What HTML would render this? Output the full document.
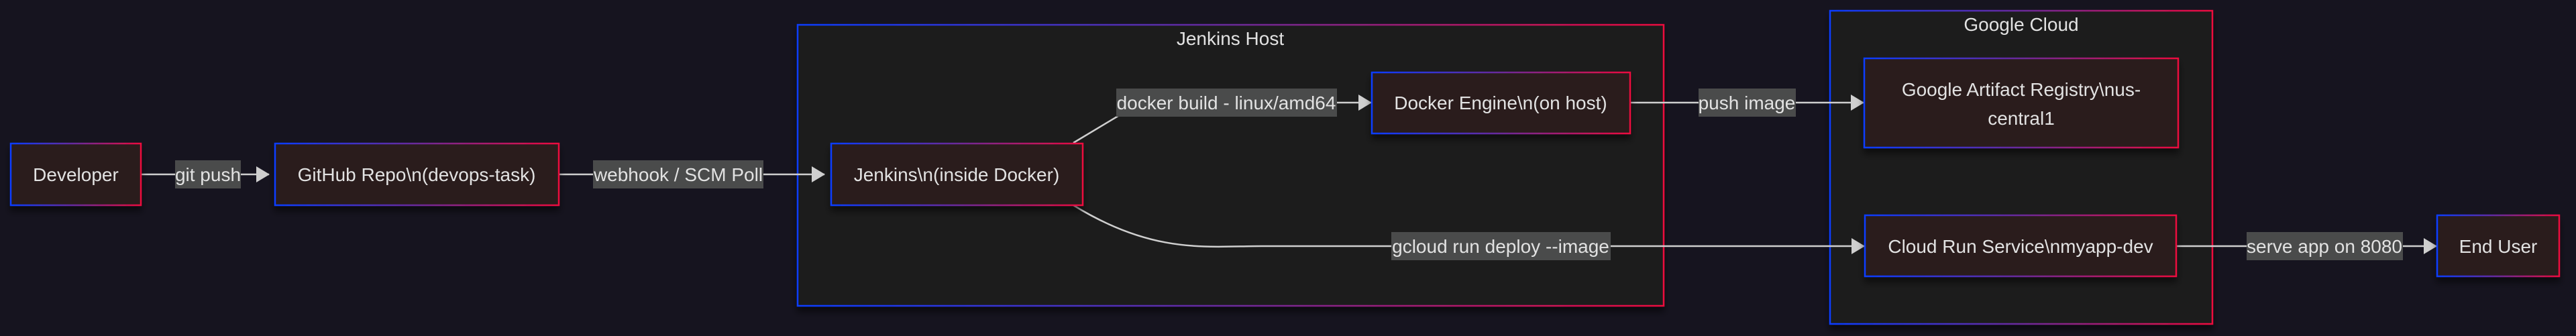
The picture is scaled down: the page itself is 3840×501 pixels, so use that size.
<!DOCTYPE html>
<html><head><meta charset="utf-8"><style>
html,body{margin:0;padding:0;background:#16141f;}
svg{display:block;}
text{font-family:"Liberation Sans",Arial,sans-serif;font-size:28px;fill:#e2e2e2;}
</style></head><body>
<svg width="3840" height="501" viewBox="0 0 3840 501" xmlns="http://www.w3.org/2000/svg">
<defs>
<linearGradient id="g" x1="0" y1="0" x2="1" y2="0">
<stop offset="0" stop-color="#0a3cff"/><stop offset="0.5" stop-color="#6a2a9a"/><stop offset="1" stop-color="#ec0a3e"/>
</linearGradient>
<filter id="sh" x="-10%" y="-10%" width="120%" height="140%"><feDropShadow dx="0" dy="8" stdDeviation="5" flood-color="#000" flood-opacity="0.5"/></filter>
<marker id="a" markerWidth="20" markerHeight="24" refX="19" refY="12" orient="auto" markerUnits="userSpaceOnUse"><path d="M0,0 L20,12 L0,24 z" fill="#cfcfcf"/></marker>
</defs>
<rect width="3840" height="501" fill="#16141f"/>
<rect x="1189" y="37" width="1291" height="419" fill="#1f1f1f" stroke="url(#g)" stroke-width="2.5" filter="url(#sh)"/>
<text x="1834" y="67" text-anchor="middle">Jenkins Host</text>
<rect x="2728" y="16" width="570" height="467" fill="#1f1f1f" stroke="url(#g)" stroke-width="2.5" filter="url(#sh)"/>
<text x="3013" y="46" text-anchor="middle">Google Cloud</text>
<g stroke="#cfcfcf" stroke-width="2.5" fill="none">
<path d="M210,260 L401,260" marker-end="url(#a)"/>
<path d="M833,260 L1229,260" marker-end="url(#a)"/>
<path d="M1600,213 L1700,153 L2044,153" marker-end="url(#a)"/>
<path d="M1600,306 C1720,380 1800,367 1880,367 L2779,367" marker-end="url(#a)"/>
<path d="M2430,153 L2778,153" marker-end="url(#a)"/>
<path d="M3244,367 L3632,367" marker-end="url(#a)"/>
</g>
<g fill="#4a4b4b">
<rect x="261" y="239" width="98" height="42"/>
<rect x="884" y="239" width="254" height="42"/>
<rect x="1664" y="132" width="329" height="42"/>
<rect x="2074" y="346" width="327" height="42"/>
<rect x="2532" y="132" width="145" height="42"/>
<rect x="3349" y="346" width="233" height="42"/>
</g>
<g text-anchor="middle">
<text x="310" y="270">git push</text>
<text x="1011" y="270">webhook / SCM Poll</text>
<text x="1828" y="163">docker build - linux/amd64</text>
<text x="2237" y="377">gcloud run deploy --image</text>
<text x="2604" y="163">push image</text>
<text x="3465" y="377">serve app on 8080</text>
</g>
<g fill="#2a1f1f" stroke="url(#g)" stroke-width="2.5" filter="url(#sh)">
<rect x="16" y="214" width="194" height="92"/>
<rect x="410" y="214" width="423" height="92"/>
<rect x="1239" y="214" width="375" height="92"/>
<rect x="2045" y="108" width="385" height="91"/>
<rect x="2779" y="87" width="468" height="133"/>
<rect x="2780" y="321" width="464" height="91"/>
<rect x="3633" y="321" width="182" height="91"/>
</g>
<g text-anchor="middle">
<text x="113" y="270">Developer</text>
<text x="621" y="270">GitHub Repo\n(devops-task)</text>
<text x="1426" y="270">Jenkins\n(inside Docker)</text>
<text x="2237" y="163">Docker Engine\n(on host)</text>
<text x="3013" y="143">Google Artifact Registry\nus-</text>
<text x="3013" y="186">central1</text>
<text x="3012" y="377">Cloud Run Service\nmyapp-dev</text>
<text x="3724" y="377">End User</text>
</g>
</svg>
</body></html>
